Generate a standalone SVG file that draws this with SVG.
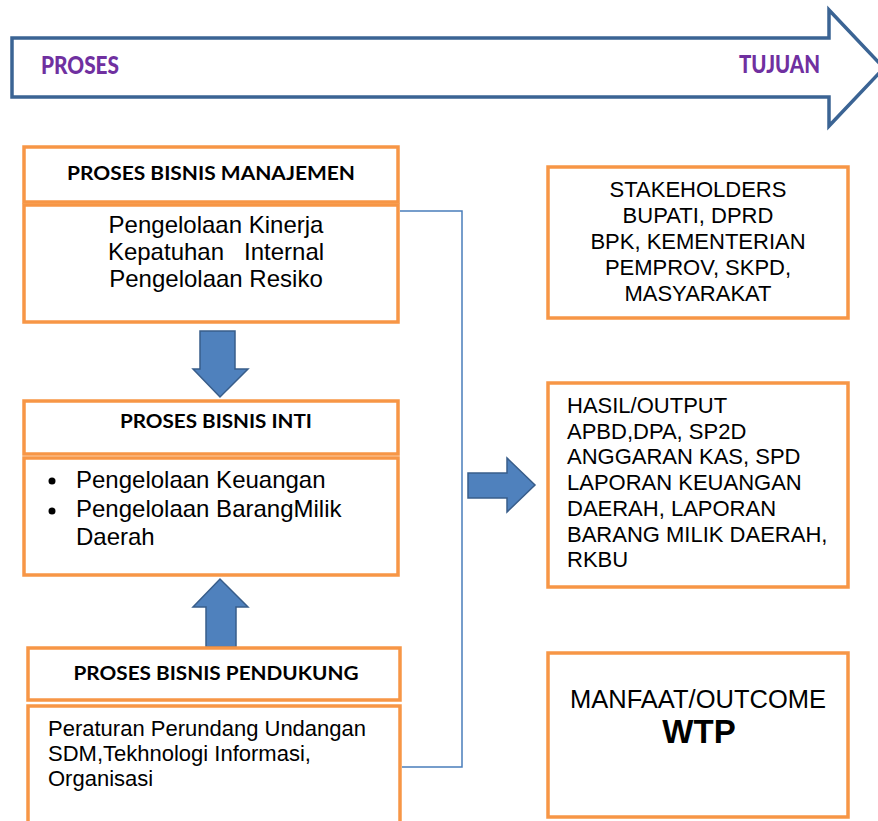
<svg xmlns="http://www.w3.org/2000/svg" width="878" height="821" viewBox="0 0 878 821">
<style>
.box{fill:#fff;stroke:#F79646;stroke-width:3.5}
.hdr{font-family:Lato,"Liberation Sans",sans-serif;font-weight:700;font-size:19px;fill:#000;text-anchor:middle}
.body{font-family:"Liberation Sans",Arial,sans-serif;font-size:24px;fill:#000}
.small{font-size:22px}
.rt{font-family:"Liberation Sans",Arial,sans-serif;font-size:22px;fill:#000}
.blk{fill:#4F81BD;stroke:#385D8A;stroke-width:1.5}
.ttl{font-family:Lato,"Liberation Sans",sans-serif;font-weight:900;font-size:24px;fill:#7030A0}
.conn{fill:none;stroke:#4A7EBB;stroke-width:1.5}
</style>
<rect width="878" height="821" fill="#fff"/>
<g id="banner">
<path d="M12,38 H829 V10 L884,68 L829,126 V97 H12 Z" fill="#fff" stroke="#3B6494" stroke-width="3.5" stroke-linejoin="miter"/>
<text class="ttl" x="41" y="74" textLength="78" lengthAdjust="spacingAndGlyphs">PROSES</text>
<text class="ttl" x="739" y="73" textLength="81" lengthAdjust="spacingAndGlyphs">TUJUAN</text>
</g>
<g id="connectors">
<path class="conn" d="M400,211 H462 V767 H402"/>
<path class="blk" d="M200,331 H235 V369 H248 L220,397 L193,369 H200 Z"/>
<path class="blk" d="M206,647 V607 H193 L220,579 L248,607 H236 V647 Z"/>
<path class="blk" d="M468,473 H507 V458 L535,485 L507,512 V498 H468 Z"/>
</g>
<g id="manajemen">
<rect class="box" x="24" y="147" width="374" height="55"/>
<rect class="box" x="24" y="205" width="374" height="117"/>
<text class="hdr" x="211" y="180" textLength="288" lengthAdjust="spacingAndGlyphs">PROSES BISNIS MANAJEMEN</text>
<text class="body" text-anchor="middle" x="216" y="233">Pengelolaan Kinerja</text>
<text class="body" text-anchor="middle" x="216" y="260" xml:space="preserve">Kepatuhan   Internal</text>
<text class="body" text-anchor="middle" x="216" y="287">Pengelolaan Resiko</text>
</g>
<g id="inti">
<rect class="box" x="24" y="401" width="374" height="53"/>
<rect class="box" x="24" y="458" width="374" height="117"/>
<text class="hdr" x="216" y="428" textLength="192" lengthAdjust="spacingAndGlyphs">PROSES BISNIS INTI</text>
<circle cx="52" cy="481" r="3.5" fill="#000"/>
<circle cx="52" cy="511" r="3.5" fill="#000"/>
<text class="body" x="76" y="488">Pengelolaan Keuangan</text>
<text class="body" x="76" y="517">Pengelolaan BarangMilik</text>
<text class="body" x="76" y="545">Daerah</text>
</g>
<g id="pendukung">
<rect class="box" x="28" y="648" width="372" height="52"/>
<rect class="box" x="28" y="706" width="372" height="130"/>
<text class="hdr" x="216" y="680" textLength="285" lengthAdjust="spacingAndGlyphs">PROSES BISNIS PENDUKUNG</text>
<text class="body small" x="48" y="736">Peraturan Perundang Undangan</text>
<text class="body small" x="48" y="761">SDM,Tekhnologi Informasi,</text>
<text class="body small" x="48" y="786">Organisasi</text>
</g>
<g id="stakeholders">
<rect class="box" x="548" y="167" width="300" height="151"/>
<text class="rt" text-anchor="middle" x="698" y="197">STAKEHOLDERS</text>
<text class="rt" text-anchor="middle" x="698" y="223">BUPATI, DPRD</text>
<text class="rt" text-anchor="middle" x="698" y="249">BPK, KEMENTERIAN</text>
<text class="rt" text-anchor="middle" x="698" y="275">PEMPROV, SKPD,</text>
<text class="rt" text-anchor="middle" x="698" y="301">MASYARAKAT</text>
</g>
<g id="output">
<rect class="box" x="548" y="383" width="300" height="204"/>
<text class="rt" x="567" y="413">HASIL/OUTPUT</text>
<text class="rt" x="567" y="439">APBD,DPA, SP2D</text>
<text class="rt" x="567" y="464">ANGGARAN KAS, SPD</text>
<text class="rt" x="567" y="490">LAPORAN KEUANGAN</text>
<text class="rt" x="567" y="516">DAERAH, LAPORAN</text>
<text class="rt" x="567" y="542">BARANG MILIK DAERAH,</text>
<text class="rt" x="567" y="567">RKBU</text>
</g>
<g id="outcome">
<rect class="box" x="548" y="653" width="300" height="164"/>
<text class="body" text-anchor="middle" style="font-size:25.5px" x="698" y="708">MANFAAT/OUTCOME</text>
<text class="body" text-anchor="middle" style="font-size:33px;font-weight:700" x="699" y="743">WTP</text>
</g>
</svg>
